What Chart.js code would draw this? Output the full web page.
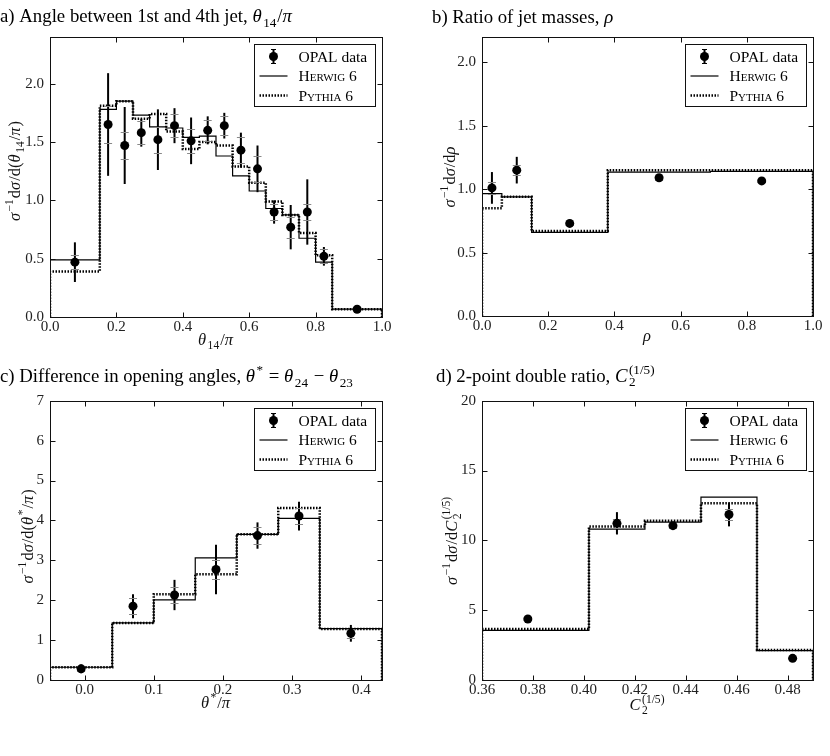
<!DOCTYPE html>
<html>
<head>
<meta charset="utf-8">
<script src="https://cdn.jsdelivr.net/npm/chart.js@4.4.0/dist/chart.umd.min.js"></script>
<style>
  body { margin: 0; background: #fff; }
  #fig { position: relative; width: 830px; height: 756px; overflow: hidden; background: #fff; }
  #fig canvas { position: absolute; }
</style>
</head>
<body>
<div id="fig">
  <canvas id="pa" width="415" height="360" style="left:0;top:0"></canvas>
  <canvas id="pb" width="415" height="360" style="left:415px;top:0"></canvas>
  <canvas id="pc" width="415" height="396" style="left:0;top:360px"></canvas>
  <canvas id="pd" width="415" height="396" style="left:415px;top:360px"></canvas>
</div>
<script>
// a) angle between 1st and 4th jet
const aEdges  = [0, 0.15, 0.2, 0.25, 0.3, 0.35, 0.4, 0.45, 0.5, 0.55, 0.6, 0.65, 0.7, 0.75, 0.8, 0.85, 1.0];
const aHerwig = [0.49, 1.78, 1.85, 1.73, 1.63, 1.62, 1.54, 1.55, 1.38, 1.21, 1.08, 0.93, 0.875, 0.675, 0.47, 0.067];
const aPythia = [0.39, 1.81, 1.85, 1.70, 1.74, 1.59, 1.44, 1.50, 1.47, 1.29, 1.15, 0.99, 0.875, 0.72, 0.53, 0.067];
const aX    = [0.075, 0.175, 0.225, 0.275, 0.325, 0.375, 0.425, 0.475, 0.525, 0.575, 0.625, 0.675, 0.725, 0.775, 0.825, 0.925];
const aY    = [0.47, 1.65, 1.47, 1.58, 1.52, 1.64, 1.51, 1.60, 1.64, 1.43, 1.27, 0.90, 0.77, 0.90, 0.52, 0.066];
const aTot  = [0.17, 0.44, 0.33, 0.12, 0.26, 0.15, 0.20, 0.12, 0.11, 0.15, 0.20, 0.10, 0.19, 0.28, 0.08, 0.01];
const aStat = [0.06, 0.16, 0.12, 0.10, 0.11, 0.10, 0.10, 0.09, 0.08, 0.11, 0.11, 0.07, 0.09, 0.07, 0.06, 0.01];
const aXTicks = [0, 0.2, 0.4, 0.6, 0.8, 1.0];
const aYTicks = [0, 0.5, 1.0, 1.5, 2.0];

// b) ratio of jet masses
const bEdges  = [0, 0.06, 0.15, 0.38, 0.69, 1.0];
const bHerwig = [0.965, 0.94, 0.66, 1.135, 1.14];
const bPythia = [0.85, 0.94, 0.67, 1.15, 1.15];
const bX    = [0.03, 0.105, 0.265, 0.535, 0.845];
const bY    = [1.01, 1.15, 0.73, 1.09, 1.065];
const bTot  = [0.125, 0.105, 0.03, 0.03, 0.025];
const bStat = [0.05, 0.04, 0.015, 0.015, 0.01];
const bXTicks = [0, 0.2, 0.4, 0.6, 0.8, 1.0];
const bYTicks = [0, 0.5, 1.0, 1.5, 2.0];

// c) difference in opening angles
const cEdges  = [-0.05, 0.04, 0.10, 0.16, 0.22, 0.28, 0.34, 0.43];
const cHerwig = [0.32, 1.43, 2.01, 3.06, 3.65, 4.05, 1.29];
const cPythia = [0.32, 1.43, 2.15, 2.65, 3.65, 4.31, 1.28];
const cX    = [-0.005, 0.07, 0.13, 0.19, 0.25, 0.31, 0.385];
const cY    = [0.28, 1.85, 2.13, 2.77, 3.62, 4.11, 1.17];
const cTot  = [0.11, 0.30, 0.38, 0.62, 0.33, 0.36, 0.21];
const cStat = [0.06, 0.20, 0.20, 0.25, 0.22, 0.20, 0.12];
const cXTicks = [0, 0.1, 0.2, 0.3, 0.4];
const cYTicks = [0, 1, 2, 3, 4, 5, 6, 7];

// d) 2-point double ratio
const dEdges  = [0.36, 0.402, 0.424, 0.446, 0.468, 0.49];
const dHerwig = [3.55, 10.8, 11.3, 13.1, 2.1];
const dPythia = [3.65, 11.0, 11.4, 12.65, 2.15];
const dX    = [0.378, 0.413, 0.435, 0.457, 0.482];
const dY    = [4.37, 11.22, 11.05, 11.85, 1.55];
const dTot  = [0.15, 0.80, 0.25, 0.85, 0.12];
const dStat = [0.08, 0.30, 0.15, 0.40, 0.08];
const dXTicks = [0.36, 0.38, 0.40, 0.42, 0.44, 0.46, 0.48];
const dYTicks = [0, 5, 10, 15, 20];

const legendLabels = ['OPAL data', 'Herwig 6', 'Pythia 6'];

const SERIF = '"Liberation Serif", "Times New Roman", serif';
const INK = '#000';

// outline of a histogram, drawn with stepped:'before' (horizontal, then vertical)
function stepData(edges, vals) {
  const last = edges.length - 1;
  const pts = [{x: edges[0], y: 0}];
  vals.forEach((v, i) => pts.push({x: edges[i], y: v}));
  pts.push({x: edges[last], y: vals[vals.length - 1]});
  pts.push({x: edges[last], y: 0});
  return pts;
}

// tiny "$...$" math: _{} / ^{} scripts, greek + C in italics
const ITALIC = /[α-ωC]/;
function readGroup(s, i) {
  if (s[i] === '{') { const k = s.indexOf('}', i); return [s.slice(i + 1, k), k]; }
  return [s[i], i];
}
function parseMath(str) {
  const segs = [];
  let math = false;
  for (let i = 0; i < str.length; i++) {
    const c = str[i];
    if (c === '$') { math = !math; continue; }
    if (math && (c === '_' || c === '^')) {
      const [grp, j] = readGroup(str, i + 1);
      i = j;
      const prev = segs[segs.length - 1];
      if (c === '^' && prev && prev.sub != null && prev.sup == null) prev.sup = grp;
      else segs.push({t: '', sub: c === '_' ? grp : null, sup: c === '^' ? grp : null});
      continue;
    }
    const it = math && ITALIC.test(c);
    const prev = segs[segs.length - 1];
    if (prev && prev.t && prev.it === it) prev.t += c;
    else segs.push({t: c, it});
  }
  return segs;
}
function drawRich(ctx, str, x, y, size, align, color) {
  const segs = parseMath(str);
  const small = size * 0.7;
  const font = (it, s) => (it ? 'italic ' : '') + s + 'px ' + SERIF;
  const width = s => {
    if (s.t) { ctx.font = font(s.it, size); return ctx.measureText(s.t).width + (s.it ? 1 : 0); }
    ctx.font = font(false, small);
    return Math.max(s.sub ? ctx.measureText(s.sub).width : 0, s.sup ? ctx.measureText(s.sup).width : 0) + 1.5;
  };
  const total = segs.reduce((a, s) => a + width(s), 0);
  let cx = align === 'center' ? x - total / 2 : x;
  ctx.textAlign = 'left';
  ctx.textBaseline = 'alphabetic';
  ctx.fillStyle = color;
  for (const s of segs) {
    const w = width(s);
    if (s.t) {
      ctx.font = font(s.it, size);
      ctx.fillText(s.t, cx, y);
    } else {
      ctx.font = font(false, small);
      if (s.sub) ctx.fillText(s.sub, cx + 0.5, y + size * 0.24);
      if (s.sup) ctx.fillText(s.sup, cx + 0.5, y - size * 0.42);
    }
    cx += w;
  }
}

function drawLegend(ctx, area) {
  const w = 121, h = 62;
  const L = Math.round(area.right - 7 - w) + 0.5, T = Math.round(area.top + 7) + 0.5;
  ctx.save();
  ctx.fillStyle = '#fff';
  ctx.fillRect(L, T, w, h);
  ctx.strokeStyle = '#111';
  ctx.lineWidth = 1;
  ctx.strokeRect(L, T, w, h);
  const rows = [T + 12, T + 31.5, T + 51];
  // data marker with error bar
  const mx = L + 19;
  ctx.strokeStyle = INK;
  ctx.lineWidth = 2;
  ctx.beginPath(); ctx.moveTo(mx, rows[0] - 7); ctx.lineTo(mx, rows[0] + 7); ctx.stroke();
  ctx.lineWidth = 1;
  ctx.beginPath();
  ctx.moveTo(mx - 2.5, rows[0] - 7); ctx.lineTo(mx + 2.5, rows[0] - 7);
  ctx.moveTo(mx - 2.5, rows[0] + 7); ctx.lineTo(mx + 2.5, rows[0] + 7);
  ctx.stroke();
  ctx.fillStyle = INK;
  ctx.beginPath(); ctx.arc(mx, rows[0], 4.5, 0, Math.PI * 2); ctx.fill();
  // solid sample
  ctx.lineWidth = 1.2;
  ctx.beginPath(); ctx.moveTo(L + 5, rows[1]); ctx.lineTo(L + 33, rows[1]); ctx.stroke();
  // dotted sample
  ctx.lineWidth = 2.5;
  ctx.setLineDash([1.5, 1.5]);
  ctx.beginPath(); ctx.moveTo(L + 5, rows[2]); ctx.lineTo(L + 33, rows[2]); ctx.stroke();
  ctx.setLineDash([]);
  ctx.textAlign = 'left';
  ctx.textBaseline = 'alphabetic';
  legendLabels.forEach((txt, i) => {
    ctx.font = '15.5px ' + SERIF;
    if ('fontVariantCaps' in ctx) ctx.fontVariantCaps = i === 0 ? 'normal' : 'small-caps';
    ctx.fillText(txt, L + 44, rows[i] + 5);
  });
  if ('fontVariantCaps' in ctx) ctx.fontVariantCaps = 'normal';
  ctx.restore();
}

const decor = {
  id: 'decor',
  beforeDatasetDraw(chart, args) {
    const ds = chart.data.datasets[args.index];
    if (!ds.errTot) return;
    const {ctx, scales: {x, y}} = chart;
    ctx.save();
    ds.data.forEach((p, i) => {
      const px = x.getPixelForValue(p.x);
      ctx.strokeStyle = INK;
      ctx.lineWidth = 2;
      ctx.beginPath();
      ctx.moveTo(px, y.getPixelForValue(p.y - ds.errTot[i]));
      ctx.lineTo(px, y.getPixelForValue(p.y + ds.errTot[i]));
      ctx.stroke();
      ctx.strokeStyle = '#888';
      ctx.lineWidth = 1;
      [-1, 1].forEach(s => {
        const py = Math.round(y.getPixelForValue(p.y + s * ds.errStat[i])) + 0.5;
        ctx.beginPath(); ctx.moveTo(px - 4, py); ctx.lineTo(px + 4, py); ctx.stroke();
      });
    });
    ctx.restore();
  },
  afterDatasetsDraw(chart) {
    const {ctx, chartArea: a, scales: {x, y}} = chart;
    const l = Math.round(a.left) + 0.5, r = Math.round(a.right) + 0.5;
    const t = Math.round(a.top) + 0.5, b = Math.round(a.bottom) + 0.5;
    ctx.save();
    ctx.strokeStyle = '#111';
    ctx.lineWidth = 1;
    ctx.strokeRect(l, t, r - l, b - t);
    ctx.beginPath();
    x.ticks.forEach(tk => {
      const px = Math.round(x.getPixelForValue(tk.value)) + 0.5;
      ctx.moveTo(px, b); ctx.lineTo(px, b - 5);
      ctx.moveTo(px, t); ctx.lineTo(px, t + 5);
    });
    y.ticks.forEach(tk => {
      const py = Math.round(y.getPixelForValue(tk.value)) + 0.5;
      ctx.moveTo(l, py); ctx.lineTo(l + 5, py);
      ctx.moveTo(r, py); ctx.lineTo(r - 5, py);
    });
    ctx.stroke();
    ctx.restore();
  },
  afterDraw(chart, args, o) {
    const {ctx, chartArea: a} = chart;
    ctx.save();
    drawLegend(ctx, a);
    drawRich(ctx, o.title, o.titleX, o.titleY, 18.8, 'left', INK);
    drawRich(ctx, o.xTitle, (a.left + a.right) / 2, a.bottom + o.xOff, 16.5, 'center', '#111');
    ctx.translate(a.left + o.yOff, (a.top + a.bottom) / 2 + o.yShift);
    ctx.rotate(-Math.PI / 2);
    drawRich(ctx, o.yTitle, 0, 0, 16.5, 'center', '#111');
    ctx.restore();
  }
};

function makePanel(id, p) {
  const tickFont = {family: SERIF, size: 15};
  return new Chart(document.getElementById(id), {
    type: 'line',
    data: {
      datasets: [
        {label: legendLabels[0], type: 'scatter', data: p.xs.map((v, i) => ({x: v, y: p.ys[i]})),
         errTot: p.tot, errStat: p.stat, pointRadius: 4.5, pointHoverRadius: 4.5,
         backgroundColor: INK, borderColor: INK, borderWidth: 0, showLine: false, order: 0},
        {label: legendLabels[2], data: stepData(p.edges, p.pythia), stepped: 'before', borderColor: INK,
         borderWidth: 2.5, borderDash: [1.5, 1.5], pointRadius: 0, fill: false, order: 1},
        {label: legendLabels[1], data: stepData(p.edges, p.herwig), stepped: 'before', borderColor: INK,
         borderWidth: 1.2, pointRadius: 0, fill: false, order: 2}
      ]
    },
    options: {
      responsive: false,
      animation: false,
      events: [],
      layout: {padding: {left: 0, right: p.padR, top: p.padT, bottom: p.padB}},
      plugins: {
        legend: {display: false},
        tooltip: {enabled: false},
        decor: {title: p.title, titleX: p.titleX, titleY: p.titleY, xTitle: p.xTitle, yTitle: p.yTitle,
                xOff: p.xOff, yOff: p.yOff, yShift: p.yShift}
      },
      scales: {
        x: {type: 'linear', min: p.xMin, max: p.xMax,
            grid: {display: false, drawTicks: false}, border: {display: false},
            ticks: {font: tickFont, color: '#222', padding: 1, maxRotation: 0, autoSkip: false,
                    callback: v => v.toFixed(p.xDec)},
            afterBuildTicks: s => { s.ticks = p.xTicks.map(v => ({value: v})); },
            afterFit: s => { s.height = 25; }},
        y: {type: 'linear', min: 0, max: p.yMax,
            grid: {display: false, drawTicks: false}, border: {display: false},
            ticks: {font: tickFont, color: '#222', padding: 6, callback: v => v.toFixed(p.yDec)},
            afterBuildTicks: s => { s.ticks = p.yTicks.map(v => ({value: v})); },
            afterFit: s => { s.width = p.yW; }}
      }
    },
    plugins: [decor]
  });
}

makePanel('pa', {
  edges: aEdges, herwig: aHerwig, pythia: aPythia, xs: aX, ys: aY, tot: aTot, stat: aStat,
  xMin: 0, xMax: 1, yMax: 2.4, xTicks: aXTicks, yTicks: aYTicks, xDec: 1, yDec: 1,
  yW: 50, padR: 33, padT: 37, padB: 18,
  title: 'a) Angle between 1st and 4th jet, $θ_{14}/π$', titleX: 0, titleY: 22,
  xTitle: '$θ_{14}/π$', yTitle: '$σ^{−1}dσ/d(θ_{14}/π)$', xOff: 28, yOff: -30, yShift: -6
});
makePanel('pb', {
  edges: bEdges, herwig: bHerwig, pythia: bPythia, xs: bX, ys: bY, tot: bTot, stat: bStat,
  xMin: 0, xMax: 1, yMax: 2.2, xTicks: bXTicks, yTicks: bYTicks, xDec: 1, yDec: 1,
  yW: 67, padR: 17, padT: 37, padB: 19,
  title: 'b) Ratio of jet masses, $ρ$', titleX: 17, titleY: 23,
  xTitle: '$ρ$', yTitle: '$σ^{−1}dσ/dρ$', xOff: 25, yOff: -27, yShift: 0
});
makePanel('pc', {
  edges: cEdges, herwig: cHerwig, pythia: cPythia, xs: cX, ys: cY, tot: cTot, stat: cStat,
  xMin: -0.05, xMax: 0.43, yMax: 7, xTicks: cXTicks, yTicks: cYTicks, xDec: 1, yDec: 0,
  yW: 50, padR: 33, padT: 40.7, padB: 51,
  title: 'c) Difference in opening angles, $θ^{*} = θ_{24} − θ_{23}$', titleX: 0, titleY: 22,
  xTitle: '$θ^{*}/π$', yTitle: '$σ^{−1}dσ/d(θ^{*}/π)$', xOff: 28, yOff: -17, yShift: -4
});
makePanel('pd', {
  edges: dEdges, herwig: dHerwig, pythia: dPythia, xs: dX, ys: dY, tot: dTot, stat: dStat,
  xMin: 0.36, xMax: 0.49, yMax: 20, xTicks: dXTicks, yTicks: dYTicks, xDec: 2, yDec: 0,
  yW: 67, padR: 17, padT: 40.7, padB: 51,
  title: 'd) 2-point double ratio, $C_{2}^{(1/5)}$', titleX: 21, titleY: 21.5,
  xTitle: '$C_{2}^{(1/5)}$', yTitle: '$σ^{−1}dσ/dC_{2}^{(1/5)}$', xOff: 30, yOff: -25, yShift: 0
});
</script>
</body>
</html>
